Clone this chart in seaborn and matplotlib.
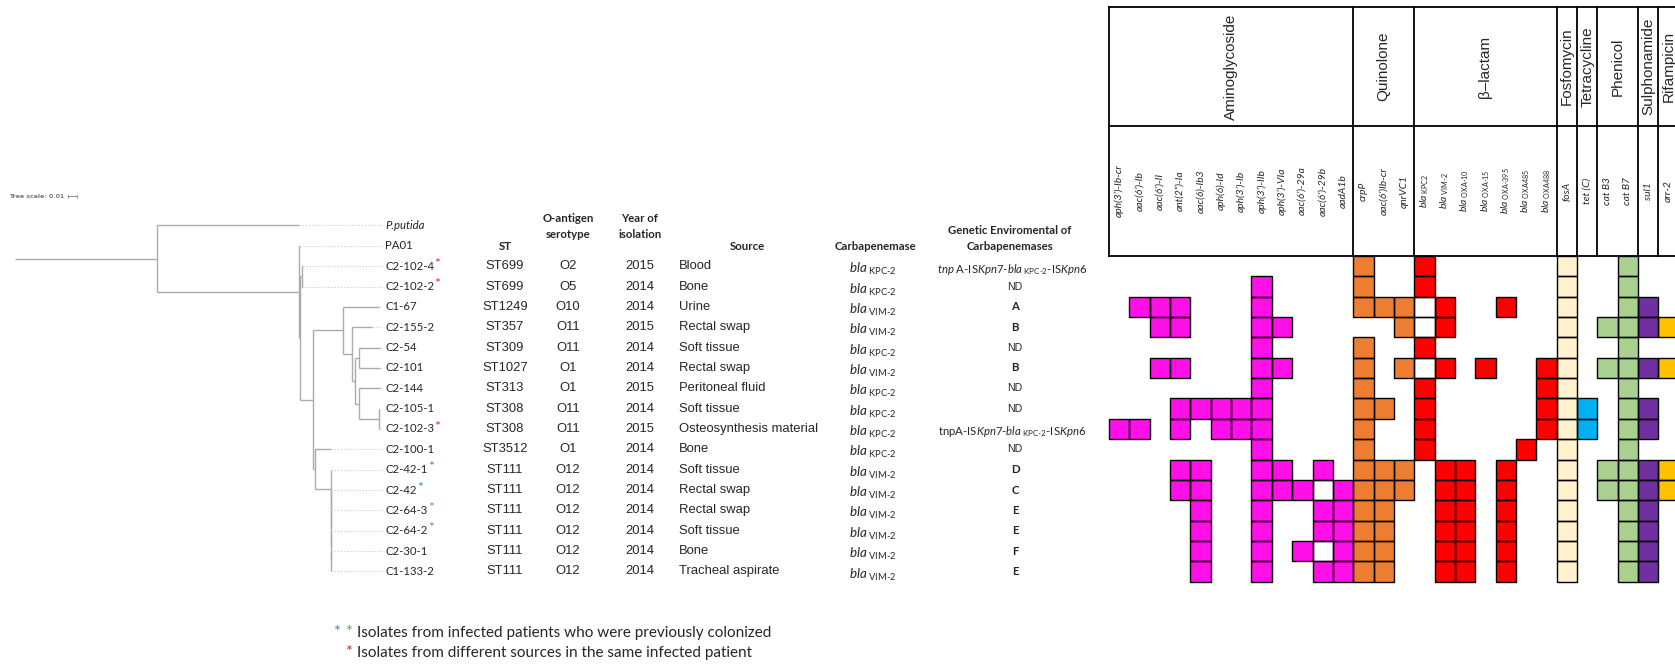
import numpy as np
import pandas as pd
import matplotlib
matplotlib.use("Agg")
import matplotlib.pyplot as plt
import seaborn as sns
from matplotlib.colors import ListedColormap
from matplotlib.patches import Rectangle

sns.set_theme(style="white")
plt.rcParams["font.family"] = ["Lato", "DejaVu Sans"]
plt.rcParams["mathtext.fontset"] = "custom"
plt.rcParams["mathtext.rm"] = "Lato"
plt.rcParams["mathtext.it"] = "Lato:italic"
plt.rcParams["mathtext.bf"] = "Lato:bold"

# ---------------- data ----------------
newick = ("(P.putida:0.158,(PA01:0.0006,((C2-102-4:0.0017,C2-102-2:0.0017):0.0017,"
          "((C1-67:0.0408,(C2-155-2:0.0222,((C2-54:0.023,C2-101:0.023):0.0044,"
          "(C2-144:0.023,(C2-105-1:0.0008,C2-102-3:0.0008):0.0214):0.0044):0.0037):0.0104):0.0329,"
          "(C2-100-1:0.0174,(C2-42-1:0.0003,(C2-42:0.0003,(C2-64-3:0.0003,(C2-64-2:0.0003,"
          "(C2-30-1:0.0003,C1-133-2:0.0003):0):0):0):0):0.0174):0.0026):0.0141):0.0011):0.158):0.158;")

references = ["P.putida", "PA01"]
isolates = ["C2-102-4", "C2-102-2", "C1-67", "C2-155-2", "C2-54", "C2-101", "C2-144",
            "C2-105-1", "C2-102-3", "C2-100-1", "C2-42-1", "C2-42", "C2-64-3", "C2-64-2",
            "C2-30-1", "C1-133-2"]
asterisk = {"C2-102-4": "#FF2020", "C2-102-2": "#FF2020", "C2-102-3": "#FF2020",
            "C2-42-1": "#2E86DE", "C2-42": "#2E86DE", "C2-64-3": "#5FA84A", "C2-64-2": "#5FA84A"}
st = ["ST699", "ST699", "ST1249", "ST357", "ST309", "ST1027", "ST313", "ST308", "ST308",
      "ST3512", "ST111", "ST111", "ST111", "ST111", "ST111", "ST111"]
serotype = ["O2", "O5", "O10", "O11", "O11", "O1", "O1", "O11", "O11", "O1", "O12", "O12",
            "O12", "O12", "O12", "O12"]
year = ["2015", "2014", "2014", "2015", "2014", "2014", "2015", "2014", "2015", "2014",
        "2014", "2014", "2014", "2014", "2014", "2014"]
source = ["Blood", "Bone", "Urine", "Rectal swap", "Soft tissue", "Rectal swap",
          "Peritoneal fluid", "Soft tissue", "Osteosynthesis material", "Bone", "Soft tissue",
          "Rectal swap", "Rectal swap", "Soft tissue", "Bone", "Tracheal aspirate"]
carbapenemase = ["KPC-2", "KPC-2", "VIM-2", "VIM-2", "KPC-2", "VIM-2", "KPC-2", "KPC-2",
                 "KPC-2", "KPC-2", "VIM-2", "VIM-2", "VIM-2", "VIM-2", "VIM-2", "VIM-2"]
genetic_env = [r"$\mathit{tnp}\text{ A-IS}\mathit{Kpn7}\text{-}\mathit{bla}_{\ \text{KPC-2}}\text{-IS}\mathit{Kpn6}$",
               "ND", "A", "B", "ND", "B", "ND", "ND",
               r"$\text{tnpA-IS}\mathit{Kpn7}\text{-}\mathit{bla}_{\ \text{KPC-2}}\text{-IS}\mathit{Kpn6}$",
               "ND", "D", "C", "E", "E", "F", "E"]

categories = ["Aminoglycoside", "Quinolone", "\u03b2\u2013lactam", "Fosfomycin", "Tetracycline",
              "Phenicol", "Sulphonamide", "Rifampicin"]
category_sizes = [12, 3, 7, 1, 1, 2, 1, 1]
category_colors = ["#FF10E8", "#ED7D31", "#FF0000", "#FFF2CC", "#00B0F0", "#A9D08E",
                   "#7030A0", "#FFC000"]
genes = ["aph(3\u2019)-Ib-cr", "aac(6\u2019)-Ib", "aac(6\u2019)-II", "ant(2\u201d)-Ia",
         "aac(6)-Ib3", "aph(6)-Id", "aph(3\u2019)-Ib", "aph(3\u2019)-IIb", "aph(3\u2019)-VIa",
         "aac(6\u2019)-29a", "aac(6\u2019)-29b", "aadA1b",
         "crpP", "aac(6\u2019)Ib-cr", "qnrVC1",
         r"$\mathit{bla}_{\ \text{KPC2}}$", r"$\mathit{bla}_{\ \text{VIM-2}}$",
         r"$\mathit{bla}_{\ \text{OXA-10}}$", r"$\mathit{bla}_{\ \text{OXA-15}}$",
         r"$\mathit{bla}_{\ \text{OXA-395}}$", r"$\mathit{bla}_{\ \text{OXA485}}$",
         r"$\mathit{bla}_{\ \text{OXA488}}$",
         "fosA", "tet (C)", "cat B3", "cat B7", "sul1", "arr-2"]
# x = gene present, o = empty bordered cell, . = absent
presence = [
    "............" "x.." "x......" "x" "." ".x" "." ".",
    ".......x...." "x.." "x......" "x" "." ".x" "." ".",
    ".xxx...x...." "xxx" "ox..x.." "x" "." ".x" "x" ".",
    "..xx...xx..." "..x" "ox....." "x" "." "xx" "x" "x",
    ".......x...." "x.." "x......" "x" "." ".x" "." ".",
    "..xx...xx..." "x.x" "ox.x..x" "x" "." "xx" "x" "x",
    ".......x...." "x.." "x.....x" "x" "." ".x" "." ".",
    "...xxxxx...." "xx." "x.....x" "x" "x" ".x" "x" ".",
    "xx.x.xxx...." "x.." "x.....x" "x" "x" ".x" "x" ".",
    ".......x...." "x.." "x....x." "x" "." ".x" "." ".",
    "...xx..xx.x." "xxx" ".xx.x.." "x" "." "xx" "x" "x",
    "...xx..xxxox" "xxx" ".xx.x.." "x" "." "xx" "x" "x",
    "....x..x..xx" "xx." ".xx.x.." "x" "." ".x" "x" ".",
    "....x..x..xx" "xx." ".xx.x.." "x" "." ".x" "x" ".",
    "....x..x.xox" "xx." ".xx.x.." "x" "." ".x" "x" ".",
    "....x..x..xx" "xx." ".xx.x.." "x" "." ".x" "x" ".",
]

# ---------------- layout constants (pixels) ----------------
FIG_W, FIG_H = 1675, 664
GRID_LEFT, GRID_TOP, CELL = 1109.0, 256.0, 20.35
HEADER_TOP, HEADER_SEP = 7.3, 126.0
TREE_X0, TREE_SCALE = 15.0, 900.0
LABEL_X = 385.0


def row_y(k):
    return GRID_TOP + CELL * (k + 0.5)


# ---------------- newick parsing ----------------
def parse_newick(s):
    pos = 0

    def node():
        nonlocal pos
        children = []
        if s[pos] == "(":
            pos += 1
            while True:
                children.append(node())
                if s[pos] == ",":
                    pos += 1
                    continue
                if s[pos] == ")":
                    pos += 1
                    break
        start = pos
        while s[pos] not in ":,);":
            pos += 1
        name = s[start:pos]
        length = 0.0
        if s[pos] == ":":
            pos += 1
            start = pos
            while s[pos] not in ",);":
                pos += 1
            length = float(s[start:pos])
        return {"name": name, "len": length, "children": children}

    return node()


leaf_rows = {n: i - 2 for i, n in enumerate(references + isolates)}


def layout(n, x0):
    n["x"] = x0 + n["len"]
    if not n["children"]:
        n["y"] = row_y(leaf_rows[n["name"]])
    else:
        for c in n["children"]:
            layout(c, n["x"])
        n["y"] = (n["children"][0]["y"] + n["children"][-1]["y"]) / 2


tree = parse_newick(newick)
layout(tree, 0.0)

fig = plt.figure(figsize=(FIG_W / 100, FIG_H / 100), dpi=100)
ax = fig.add_axes([0, 0, 1, 1])
ax.set_xlim(0, FIG_W)
ax.set_ylim(FIG_H, 0)
ax.axis("off")

TREE_COL = "#ABABAB"


def px(x):
    return TREE_X0 + TREE_SCALE * x


def draw(n, parent_x):
    ax.plot([px(parent_x), px(n["x"])], [n["y"], n["y"]], color=TREE_COL, lw=1.0,
            solid_capstyle="butt")
    if n["children"]:
        ax.plot([px(n["x"])] * 2, [n["children"][0]["y"], n["children"][-1]["y"]],
                color=TREE_COL, lw=1.0, solid_capstyle="butt")
        for c in n["children"]:
            draw(c, n["x"])
    else:
        if px(n["x"]) < LABEL_X - 4:
            ax.plot([px(n["x"]), LABEL_X - 3], [n["y"], n["y"]], color="#CFCFCF",
                    lw=0.8, ls=(0, (1.2, 1.6)))


draw(tree, 0.0)

# tree scale
ax.text(9, 196, "Tree scale: 0.01", fontsize=4.5, weight="bold", color="#7A7A7A",
        va="center", ha="left", family="DejaVu Sans")
sb0 = 68
ax.plot([sb0, sb0 + TREE_SCALE * 0.01], [196, 196], color="#808080", lw=0.6)
for xx in (sb0, sb0 + TREE_SCALE * 0.01):
    ax.plot([xx, xx], [194.5, 197.5], color="#808080", lw=0.6)

# ---------------- table ----------------
ARIAL = "Liberation Sans"
ax.text(LABEL_X, row_y(-2), "P.putida", style="italic", fontsize=8.2, va="center", ha="left")
ax.text(LABEL_X, row_y(-1), "PA01", fontsize=8.2, va="center", ha="left")

hdr = dict(fontsize=8.2, weight="bold", ha="center", va="center")
ax.text(505, 247, "ST", **hdr)
ax.text(568, 218, "O-antigen", **hdr)
ax.text(568, 235, "serotype", **hdr)
ax.text(640, 218, "Year of", **hdr)
ax.text(640, 235, "isolation", **hdr)
ax.text(747, 246, "Source", **hdr)
ax.text(875, 246, "Carbapenemase", **hdr)
ax.text(1010, 230, "Genetic Enviromental of", **hdr)
ax.text(1010, 247, "Carbapenemases", **hdr)

for k, iso in enumerate(isolates):
    y = row_y(k)
    t = ax.text(LABEL_X, y, iso, fontsize=8.2, va="center", ha="left")
    if iso in asterisk:
        ax.annotate("*", xy=(1, 1), xycoords=t, xytext=(0.3, 2.0), textcoords="offset points",
                    ha="left", va="top", fontsize=10, color=asterisk[iso])
    ax.text(505, y, st[k], fontsize=9.4, family=ARIAL, ha="center", va="center")
    ax.text(568, y, serotype[k], fontsize=9.4, family=ARIAL, ha="center", va="center")
    ax.text(640, y, year[k], fontsize=9.4, family=ARIAL, ha="center", va="center")
    ax.text(679, y, source[k], fontsize=9.4, family=ARIAL, ha="left", va="center")
    ax.text(873, y + 1, r"$\mathit{bla}_{\ \text{%s}}$" % carbapenemase[k], fontsize=9.6,
            ha="center", va="center_baseline")
    g = genetic_env[k]
    if g.startswith("$"):
        ax.text(1012, y + 1, g, fontsize=8.2, ha="center", va="center_baseline")
    elif g == "ND":
        ax.text(1015, y, g, fontsize=7.6, family=ARIAL, ha="center", va="center")
    else:
        ax.text(1015, y, g, fontsize=8.2, weight="bold", ha="center", va="center")

# footnote
ax.text(357, 633, "Isolates from infected patients who were previously colonized",
        fontsize=11.0, ha="left", va="center")
ax.text(333, 632, "*", fontsize=11.5, color="#2E86DE", ha="left", va="center")
ax.text(345, 632, "*", fontsize=11.5, color="#5FA84A", ha="left", va="center")
ax.text(357, 653, "Isolates from different sources in the same infected patient",
        fontsize=11.0, ha="left", va="center")
ax.text(345, 652, "*", fontsize=11.5, color="#FF2020", ha="left", va="center")

# ---------------- heatmap ----------------
n_rows, n_cols = len(isolates), len(genes)
col_cat = np.repeat(np.arange(len(categories)), category_sizes)
codes = np.full((n_rows, n_cols), np.nan)
for r, row in enumerate(presence):
    for c, ch in enumerate(row):
        if ch == "x":
            codes[r, c] = col_cat[c]
        elif ch == "o":
            codes[r, c] = len(categories)
df = pd.DataFrame(codes, index=isolates, columns=[f"g{i}" for i in range(n_cols)])

hax = fig.add_axes([GRID_LEFT / FIG_W, 1 - (GRID_TOP + n_rows * CELL) / FIG_H,
                    n_cols * CELL / FIG_W, n_rows * CELL / FIG_H])
cmap = ListedColormap(category_colors + ["#FFFFFF"])
sns.heatmap(df, ax=hax, cmap=cmap, vmin=-0.5, vmax=len(categories) + 0.5, cbar=False,
            linewidths=0, xticklabels=False, yticklabels=False)
hax.set_xlabel("")
hax.set_ylabel("")
# black borders around filled cells only
for r in range(n_rows):
    for c in range(n_cols):
        if not np.isnan(codes[r, c]):
            hax.add_patch(Rectangle((c, r), 1, 1, fill=False, edgecolor="black", lw=1.0,
                                    clip_on=False, zorder=3))

y_top = -(GRID_TOP - HEADER_TOP) / CELL
y_sep = -(GRID_TOP - HEADER_SEP) / CELL
lk = dict(color="black", lw=1.3, clip_on=False, solid_capstyle="projecting", zorder=4)
hax.plot([0, n_cols], [y_top, y_top], **lk)
hax.plot([0, n_cols], [y_sep, y_sep], **lk)
hax.plot([0, n_cols], [0, 0], **lk)
bounds = np.concatenate([[0], np.cumsum(category_sizes)])
for b in bounds:
    hax.plot([b, b], [y_top, 0], **lk)
for i, cat in enumerate(categories):
    mid = (bounds[i] + bounds[i + 1]) / 2
    hax.text(mid, (y_top + y_sep) / 2, cat, rotation=90, ha="center", va="center",
             fontsize=11, family=ARIAL, clip_on=False)
for c, g in enumerate(genes):
    hax.text(c + 0.5, y_sep / 2, g, rotation=90, ha="center", va="center", fontsize=7.4,
             style="italic", clip_on=False)

fig.savefig("out.png", dpi=100)
